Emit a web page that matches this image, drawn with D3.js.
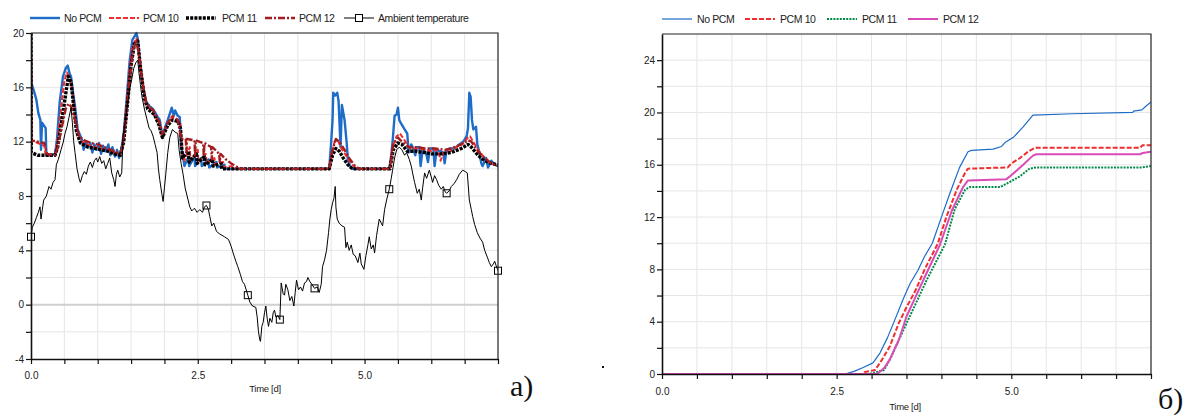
<!DOCTYPE html>
<html>
<head>
<meta charset="utf-8">
<script src="https://cdn.jsdelivr.net/npm/d3@7"></script>
<style>
  body { margin: 0; background: #fff; }
  svg { display: block; }
  text { font-family: "Liberation Sans", Arial, sans-serif; }
</style>
</head>
<body>
<svg id="chart" width="1185" height="418"></svg>
<script>
// ---- panel a) : indoor temperature, [t (days), °C] ----
const ambient = [
  [0,5.0],[0.02,5.7],[0.05,6.0],[0.08,6.4],[0.11,6.8],[0.135,7.2],[0.15,6.3],[0.17,7.0],[0.19,7.7],[0.23,8.0],
  [0.27,8.7],[0.3,8.5],[0.33,9.0],[0.36,9.2],[0.38,10.3],[0.41,10.7],[0.45,11.4],[0.48,11.9],[0.51,12.6],[0.54,13.1],
  [0.57,13.8],[0.6,14.5],[0.62,13.4],[0.64,12.0],[0.66,11.2],[0.69,10.0],[0.72,9.3],[0.74,9.0],[0.77,9.5],[0.8,9.8],
  [0.83,9.6],[0.86,10.2],[0.89,10.5],[0.92,10.1],[0.95,10.6],[0.98,10.8],[1.0,10.5],[1.03,10.9],[1.06,10.4],[1.09,10.6],
  [1.12,10.0],[1.15,10.4],[1.18,10.8],[1.21,9.7],[1.24,9.2],[1.26,8.7],[1.28,9.6],[1.3,9.9],[1.33,9.4],[1.36,9.7],
  [1.38,12.4],[1.41,13.4],[1.45,14.9],[1.48,15.9],[1.51,16.6],[1.54,17.4],[1.57,17.8],[1.6,18.0],[1.62,17.0],[1.64,16.2],
  [1.66,15.4],[1.7,14.4],[1.74,13.6],[1.77,13.0],[1.8,12.8],[1.83,12.4],[1.86,11.8],[1.89,11.2],[1.91,10.0],[1.93,9.2],
  [1.96,8.2],[1.98,7.6],[2.0,8.6],[2.02,9.6],[2.05,11.2],[2.08,12.3],[2.12,12.9],[2.16,12.7],[2.2,12.6],[2.22,11.4],
  [2.25,10.4],[2.28,9.6],[2.31,8.6],[2.34,8.0],[2.38,7.2],[2.41,6.9],[2.45,7.1],[2.49,6.8],[2.53,7.0],[2.57,6.8],
  [2.6,7.2],[2.63,7.3],[2.66,7.0],[2.68,6.5],[2.71,5.8],[2.74,6.0],[2.78,5.4],[2.83,5.2],[2.9,5.0],[2.96,4.8],
  [3.0,4.3],[3.03,3.8],[3.07,3.2],[3.1,2.8],[3.14,2.2],[3.17,1.7],[3.2,1.5],[3.25,0.7],[3.28,0.2],[3.32,-0.1],
  [3.37,-0.2],[3.39,-0.9],[3.41,-2.0],[3.43,-2.6],[3.44,-2.7],[3.46,-1.6],[3.48,-1.3],[3.5,-0.6],[3.52,-0.1],[3.54,-1.0],
  [3.56,-1.6],[3.58,-1.0],[3.61,-1.3],[3.63,-0.6],[3.65,-0.4],[3.67,-0.9],[3.7,-0.8],[3.73,-1.1],[3.74,0.2],[3.75,1.6],
  [3.78,0.8],[3.8,0.7],[3.82,1.5],[3.85,1.1],[3.88,0.3],[3.91,0.6],[3.94,-0.1],[3.96,0.9],[3.98,1.8],[4.01,1.1],
  [4.04,1.3],[4.07,1.0],[4.1,1.6],[4.13,1.7],[4.15,2.0],[4.18,1.7],[4.21,1.5],[4.25,1.2],[4.29,1.3],[4.32,0.9],
  [4.35,1.5],[4.37,2.8],[4.4,3.3],[4.43,4.0],[4.46,5.3],[4.48,6.3],[4.5,7.0],[4.52,7.5],[4.54,7.8],[4.56,8.7],
  [4.57,7.2],[4.59,6.3],[4.62,6.0],[4.66,5.8],[4.7,5.7],[4.72,4.2],[4.74,4.6],[4.77,4.0],[4.8,4.4],[4.83,3.7],
  [4.86,3.6],[4.9,3.1],[4.93,3.8],[4.95,3.0],[4.99,2.6],[5.02,3.6],[5.05,4.4],[5.07,5.0],[5.1,4.1],[5.13,4.4],
  [5.15,3.8],[5.18,5.1],[5.22,6.3],[5.25,6.0],[5.27,5.8],[5.3,7.0],[5.33,7.7],[5.37,8.5],[5.4,9.3],[5.42,9.9],
  [5.45,10.8],[5.48,11.4],[5.52,11.6],[5.56,11.4],[5.6,11.0],[5.63,11.2],[5.67,10.7],[5.7,10.2],[5.72,9.7],[5.75,9.0],
  [5.79,8.2],[5.82,8.5],[5.85,7.7],[5.87,8.6],[5.9,9.7],[5.93,9.3],[5.97,9.9],[6.0,9.4],[6.02,9.0],[6.05,9.5],
  [6.08,9.2],[6.11,8.8],[6.15,8.5],[6.18,8.7],[6.21,8.3],[6.23,8.2],[6.27,8.4],[6.3,8.7],[6.34,8.9],[6.38,9.2],
  [6.42,9.6],[6.47,9.9],[6.51,9.8],[6.54,9.7],[6.57,7.7],[6.6,7.0],[6.62,6.5],[6.65,5.9],[6.69,5.3],[6.73,4.9],
  [6.77,4.6],[6.8,4.0],[6.84,3.5],[6.87,3.1],[6.9,2.8],[6.93,3.0],[6.95,3.2],[6.97,2.9],[7.0,2.5]
];
const ambientMarkerTimes = [0, 2.63, 3.25, 3.73, 4.25, 5.37, 6.23, 7.0];

const noPcmA = [
  [0,20],[0.005,16.3],[0.04,15.8],[0.08,15.1],[0.11,14.1],[0.14,13.6],[0.15,11.4],[0.165,13.4],[0.22,13.0],[0.23,11.0],
  [0.3,11.0],[0.36,11.1],[0.39,12.2],[0.43,14.9],[0.48,16.8],[0.52,17.4],[0.55,17.6],[0.58,17.0],[0.6,16.8],[0.63,15.6],
  [0.66,14.6],[0.7,12.9],[0.76,12.2],[0.79,11.4],[0.82,12.0],[0.86,11.6],[0.89,11.9],[0.92,11.2],[0.95,11.8],[0.98,11.4],
  [1.02,11.9],[1.05,11.1],[1.08,11.7],[1.12,11.3],[1.16,11.8],[1.19,11.0],[1.22,11.6],[1.26,10.9],[1.29,11.4],[1.32,10.8],
  [1.36,11.6],[1.39,12.6],[1.43,14.9],[1.46,16.8],[1.48,18.0],[1.52,19.5],[1.58,20.0],[1.6,19.6],[1.63,18.0],[1.68,16.0],
  [1.73,14.9],[1.78,14.6],[1.83,14.4],[1.9,13.8],[1.93,13.6],[1.97,12.4],[2.02,13.2],[2.05,13.6],[2.09,14.2],[2.11,14.5],
  [2.14,13.9],[2.16,14.3],[2.2,13.9],[2.23,13.8],[2.25,11.6],[2.27,11.2],[2.3,10.2],[2.36,10.9],[2.37,10.2],[2.45,10.9],
  [2.46,10.2],[2.55,10.8],[2.56,10.2],[2.66,10.7],[2.67,10.1],[2.78,10.5],[2.79,10.1],[2.9,10.3],[2.91,10.0],[4.47,10.0],
  [4.5,12.0],[4.52,13.6],[4.53,15.6],[4.56,15.4],[4.59,15.6],[4.61,15.0],[4.64,11.6],[4.66,14.7],[4.7,13.6],[4.73,12.0],
  [4.75,10.7],[4.78,10.2],[4.82,10.0],[5.37,10.0],[5.4,11.0],[5.42,12.0],[5.45,13.9],[5.48,14.0],[5.5,14.5],[5.52,13.6],
  [5.54,13.4],[5.6,12.9],[5.64,12.6],[5.66,11.2],[5.7,11.8],[5.72,11.6],[5.76,11.0],[5.78,11.6],[5.82,11.6],[5.84,10.2],
  [5.87,11.4],[5.92,11.2],[5.95,10.5],[5.98,11.5],[6.03,11.5],[6.05,10.2],[6.08,11.4],[6.13,11.3],[6.18,11.2],[6.2,10.4],
  [6.23,11.4],[6.28,11.5],[6.35,11.5],[6.42,11.8],[6.48,12.0],[6.53,12.4],[6.55,13.0],[6.57,15.6],[6.59,15.3],[6.61,13.6],
  [6.63,12.9],[6.67,13.1],[6.69,11.8],[6.72,11.2],[6.75,10.4],[6.77,10.2],[6.82,10.8],[6.85,10.1],[6.9,10.6],[6.95,10.3],
  [7.0,10.2]
];
const pcm10A = [
  [0,20],[0.005,12.1],[0.1,11.9],[0.2,11.7],[0.22,11.0],[0.36,11.0],[0.4,12.2],[0.45,14.5],[0.5,16.5],[0.54,17.1],
  [0.57,16.8],[0.61,16.0],[0.66,14.0],[0.7,12.6],[0.76,12.0],[0.85,11.8],[0.95,11.6],[1.05,11.5],[1.15,11.4],[1.25,11.2],
  [1.34,11.0],[1.38,11.9],[1.43,14.6],[1.48,17.5],[1.52,19.0],[1.58,19.6],[1.63,17.9],[1.68,16.0],[1.73,14.7],[1.82,14.2],
  [1.92,13.4],[1.97,12.3],[2.05,13.4],[2.12,13.9],[2.2,13.6],[2.24,13.3],[2.27,11.0],[2.3,10.6],[2.38,11.6],[2.39,10.6],
  [2.5,11.4],[2.51,10.5],[2.62,11.1],[2.63,10.4],[2.75,10.8],[2.76,10.3],[2.88,10.5],[2.89,10.1],[3.0,10.2],[3.05,10.0],
  [4.47,10.0],[4.5,11.0],[4.55,12.0],[4.6,12.1],[4.65,11.5],[4.72,11.0],[4.8,10.4],[4.88,10.0],[5.37,10.0],[5.42,11.6],
  [5.48,12.4],[5.53,12.6],[5.6,12.1],[5.68,11.5],[5.8,11.5],[5.9,11.4],[6.0,11.3],[6.1,11.4],[6.14,10.6],[6.18,11.2],
  [6.28,11.3],[6.38,11.6],[6.48,11.9],[6.55,12.3],[6.58,12.4],[6.63,12.0],[6.7,11.4],[6.8,10.8],[6.9,10.4],[7.0,10.2]
];
const pcm11A = [
  [0,20],[0.005,11.2],[0.1,11.0],[0.36,11.0],[0.4,11.6],[0.46,13.5],[0.52,15.5],[0.56,16.8],[0.6,16.4],[0.64,14.6],
  [0.68,12.8],[0.74,11.9],[0.85,11.6],[0.95,11.5],[1.05,11.4],[1.15,11.3],[1.25,11.1],[1.34,11.0],[1.39,12.0],[1.45,15.0],
  [1.5,17.6],[1.55,19.2],[1.6,19.4],[1.64,17.5],[1.7,15.2],[1.75,14.4],[1.85,14.0],[1.92,13.2],[1.97,12.3],[2.05,13.2],
  [2.12,13.6],[2.2,13.5],[2.24,13.0],[2.27,10.8],[2.36,11.3],[2.37,10.5],[2.48,11.1],[2.49,10.4],[2.6,10.9],[2.61,10.3],
  [2.72,10.7],[2.73,10.2],[2.85,10.4],[2.86,10.0],[4.47,10.0],[4.52,11.0],[4.57,11.5],[4.62,11.3],[4.68,10.8],[4.75,10.3],
  [4.82,10.0],[5.38,10.0],[5.43,11.4],[5.5,11.9],[5.56,11.8],[5.64,11.3],[5.75,11.3],[5.9,11.2],[6.0,11.1],[6.15,11.1],
  [6.3,11.2],[6.45,11.5],[6.55,11.8],[6.6,11.6],[6.7,11.0],[6.8,10.6],[6.9,10.4],[7.0,10.3]
];
const pcm12A = [
  [0,20],[0.005,12.1],[0.1,12.0],[0.2,11.9],[0.24,11.1],[0.36,11.0],[0.4,11.6],[0.46,13.0],[0.52,14.4],[0.56,14.8],
  [0.6,14.6],[0.66,13.6],[0.72,12.4],[0.8,12.1],[0.9,11.9],[1.0,11.8],[1.1,11.6],[1.2,11.4],[1.3,11.2],[1.36,11.3],
  [1.42,13.6],[1.48,16.6],[1.53,18.8],[1.58,19.4],[1.62,18.4],[1.67,16.4],[1.73,14.8],[1.82,14.4],[1.92,13.5],[1.97,12.6],
  [2.05,13.4],[2.12,13.8],[2.2,13.6],[2.25,12.2],[2.32,12.2],[2.33,11.2],[2.34,12.2],[2.45,12.1],[2.46,11.0],[2.47,12.1],
  [2.58,11.9],[2.59,10.9],[2.6,11.9],[2.7,11.6],[2.71,10.7],[2.72,11.6],[2.82,11.1],[2.83,10.5],[2.84,11.1],[2.92,10.7],
  [3.0,10.4],[3.1,10.1],[3.15,10.0],[4.47,10.0],[4.52,11.4],[4.57,12.2],[4.62,12.0],[4.7,11.4],[4.78,10.7],[4.86,10.2],
  [4.92,10.0],[5.38,10.0],[5.43,11.8],[5.5,12.3],[5.56,12.0],[5.66,11.6],[5.8,11.6],[5.9,11.5],[6.05,11.5],[6.2,11.4],
  [6.3,11.5],[6.45,11.8],[6.55,12.1],[6.6,12.0],[6.7,11.3],[6.8,10.8],[6.9,10.4],[7.0,10.2]
];

// ---- panel б) : cumulative values, [t (days), value] ----
const noPcmB = [
  [0,0],[2.62,0],[2.75,0.2],[2.88,0.5],[3.02,0.85],[3.12,1.6],[3.23,2.8],[3.33,4.1],[3.45,5.7],[3.55,6.9],
  [3.66,7.9],[3.76,9.0],[3.87,10.0],[4.0,12.0],[4.12,13.8],[4.26,15.8],[4.38,17.0],[4.43,17.1],[4.74,17.2],[4.86,17.4],
  [4.91,17.7],[5.03,18.1],[5.17,18.9],[5.31,19.8],[5.88,19.9],[6.74,20.0],[6.75,20.1],[6.87,20.2],[6.91,20.4],[7.0,20.8]
];
const pcm10B = [
  [0,0],[2.88,0],[2.9,0.15],[3.05,0.3],[3.15,1.1],[3.26,2.1],[3.39,3.9],[3.5,5.1],[3.63,6.4],[3.76,8.0],
  [3.95,10.0],[4.07,12.0],[4.22,14.1],[4.34,15.4],[4.38,15.7],[4.95,15.8],[5.0,16.1],[5.12,16.5],[5.24,17.0],[5.34,17.3],
  [6.84,17.3],[6.88,17.5],[7.0,17.5]
];
const pcm11B = [
  [0,0],[2.96,0],[3.18,0.3],[3.28,1.3],[3.39,2.6],[3.52,4.1],[3.66,5.7],[3.79,7.2],[4.05,9.9],[4.19,12.6],
  [4.34,14.1],[4.41,14.3],[4.84,14.3],[4.88,14.4],[4.98,14.7],[5.12,15.1],[5.26,15.7],[5.36,15.8],[6.88,15.8],[7.0,15.9]
];
const pcm12B = [
  [0,0],[3.08,0],[3.1,0.1],[3.18,0.45],[3.26,1.1],[3.39,2.6],[3.5,4.4],[3.63,5.9],[3.76,7.4],[3.98,9.9],
  [4.15,12.5],[4.31,14.3],[4.38,14.8],[4.93,14.9],[5.0,15.2],[5.17,16.0],[5.31,16.7],[5.36,16.8],[6.84,16.8],[6.88,16.9],
  [7.0,17.0]
];

const svg = d3.select("#chart");
const FONT = 10;

function drawPanel(opt) {
  const { id, box, yDomain, yTicks, series, legend } = opt;
  const x = d3.scaleLinear().domain([0, 7]).range([box.left, box.right]);
  const y = d3.scaleLinear().domain(yDomain).range([box.bottom, box.top]);
  const g = svg.append("g").attr("class", id);

  // grid every 0.5 d and every 2 units
  g.append("g").selectAll("line")
    .data(d3.range(0.5, 7, 0.5))
    .join("line")
    .attr("x1", d => x(d)).attr("x2", d => x(d))
    .attr("y1", box.top).attr("y2", box.bottom)
    .attr("stroke", "#e6e6e6").attr("stroke-width", 1);
  g.append("g").selectAll("line")
    .data(yTicks.filter(d => d > yDomain[0]))
    .join("line")
    .attr("x1", box.left).attr("x2", box.right)
    .attr("y1", d => y(d)).attr("y2", d => y(d))
    .attr("stroke", d => (d === 0 ? "#cfcfcf" : "#e6e6e6"))
    .attr("stroke-width", d => (d === 0 ? 2 : 1));

  // clip so lines stay inside the frame
  svg.append("clipPath").attr("id", id + "-clip")
    .append("rect")
    .attr("x", box.left).attr("y", box.top - 2)
    .attr("width", box.right - box.left).attr("height", box.bottom - box.top + 2);

  const line = d3.line().x(d => x(d[0])).y(d => y(d[1]));
  const lines = g.append("g").attr("clip-path", `url(#${id}-clip)`);
  for (const s of series) {
    lines.append("path")
      .attr("d", line(s.data))
      .attr("fill", "none")
      .attr("stroke", s.color)
      .attr("stroke-width", s.width)
      .attr("stroke-dasharray", s.dash || null)
      .attr("stroke-linejoin", "round");
    if (s.markers) {
      const pts = s.data.filter(d => s.markers.includes(d[0]));
      g.append("g").selectAll("rect")
        .data(pts)
        .join("rect")
        .attr("x", d => x(d[0]) - 3.5).attr("y", d => y(d[1]) - 3.5)
        .attr("width", 7).attr("height", 7)
        .attr("fill", "none").attr("stroke", s.color).attr("stroke-width", 1);
    }
  }

  // frame: top and right
  g.append("path")
    .attr("d", `M${box.left},${box.top}H${box.right}V${box.bottom}`)
    .attr("fill", "none").attr("stroke", "#222").attr("stroke-width", 1.2);

  const yAxis = d3.axisLeft(y)
    .tickValues(yTicks)
    .tickSize(5).tickSizeOuter(0).tickPadding(2)
    .tickFormat(d => (d % 4 === 0 ? d : ""));
  const ya = g.append("g").attr("transform", `translate(${box.left},0)`).call(yAxis);

  const xAxis = d3.axisBottom(x)
    .tickValues(d3.range(0, 7.01, 0.5))
    .tickSize(5).tickSizeOuter(0).tickPadding(opt.xPad)
    .tickFormat(d => (Math.abs(d % 2.5) < 1e-9 ? d.toFixed(1) : ""));
  const xa = g.append("g").attr("transform", `translate(0,${box.bottom})`).call(xAxis);

  for (const a of [ya, xa]) {
    a.select(".domain").attr("stroke", "#111").attr("stroke-width", 1.6);
    a.selectAll(".tick line").attr("stroke", "#111").attr("stroke-width", 1.2);
    a.selectAll(".tick text").attr("fill", "#222")
      .style("font-size", FONT + "px").style("font-family", "Liberation Sans, Arial, sans-serif");
  }

  g.append("text")
    .attr("x", opt.xLabelX)
    .attr("y", box.bottom + opt.xLabelDy)
    .attr("text-anchor", "middle")
    .attr("fill", "#222")
    .style("font-size", "9.5px")
    .style("letter-spacing", "-0.3px")
    .text("Time [d]");

  // legend
  const lg = g.append("g");
  for (const item of legend) {
    const s = series.find(d => d.name === item.name);
    lg.append("line")
      .attr("x1", item.x).attr("x2", item.x + 30)
      .attr("y1", opt.legendY).attr("y2", opt.legendY)
      .attr("stroke", s.color).attr("stroke-width", s.width)
      .attr("stroke-dasharray", s.dash || null);
    if (s.markers) {
      lg.append("rect")
        .attr("x", item.x + 11.5).attr("y", opt.legendY - 3.5)
        .attr("width", 7).attr("height", 7)
        .attr("fill", "#fff").attr("stroke", s.color);
    }
    lg.append("text")
      .attr("x", item.x + item.gap).attr("y", opt.legendY + 3.5)
      .attr("fill", "#222")
      .style("font-size", "10.5px")
      .style("letter-spacing", "-0.4px")
      .text(s.name);
  }
}

drawPanel({
  id: "pa",
  box: { left: 31, right: 498, top: 33, bottom: 359 },
  yDomain: [-4, 20],
  yTicks: d3.range(-4, 20.01, 2),
  xPad: 8,
  xLabelX: 265,
  xLabelDy: 33,
  legendY: 18,
  series: [
    { name: "No PCM", data: noPcmA, color: "#1c6cc8", width: 2.4 },
    { name: "PCM 10", data: pcm10A, color: "#ee2e2f", width: 2, dash: "5 2" },
    { name: "PCM 11", data: pcm11A, color: "#000", width: 3.4, dash: "3 1.2" },
    { name: "PCM 12", data: pcm12A, color: "#a21d21", width: 2.4, dash: "7 2 2 2" },
    { name: "Ambient temperature", data: ambient, color: "#000", width: 1, markers: ambientMarkerTimes }
  ],
  legend: [
    { name: "No PCM", x: 30, gap: 34 },
    { name: "PCM 10", x: 109, gap: 34 },
    { name: "PCM 11", x: 186, gap: 36 },
    { name: "PCM 12", x: 265, gap: 34 },
    { name: "Ambient temperature", x: 344, gap: 34 }
  ]
});

drawPanel({
  id: "pb",
  box: { left: 662, right: 1151, top: 34, bottom: 374 },
  yDomain: [0, 26],
  yTicks: d3.range(0, 24.01, 2),
  xPad: 9,
  xLabelX: 905,
  xLabelDy: 36,
  legendY: 19,
  series: [
    { name: "No PCM", data: noPcmB, color: "#1c6cc8", width: 1.2 },
    { name: "PCM 10", data: pcm10B, color: "#ee2e2f", width: 2, dash: "5 2" },
    { name: "PCM 11", data: pcm11B, color: "#008c48", width: 2, dash: "2 1.2" },
    { name: "PCM 12", data: pcm12B, color: "#d94cb8", width: 2 }
  ],
  legend: [
    { name: "No PCM", x: 662, gap: 35 },
    { name: "PCM 10", x: 745, gap: 35 },
    { name: "PCM 11", x: 827, gap: 35 },
    { name: "PCM 12", x: 908, gap: 35 }
  ]
});

// panel captions
svg.append("text").attr("x", 510).attr("y", 396)
  .style("font-family", "Liberation Serif, Times New Roman, serif")
  .style("font-size", "30px").attr("fill", "#111").text("a)");
svg.append("text").attr("x", 1158).attr("y", 409)
  .style("font-family", "Liberation Serif, Times New Roman, serif")
  .style("font-size", "30px").attr("fill", "#111").text("б)");
svg.append("rect").attr("x", 602).attr("y", 366).attr("width", 2).attr("height", 2).attr("fill", "#111");
</script>
</body>
</html>
